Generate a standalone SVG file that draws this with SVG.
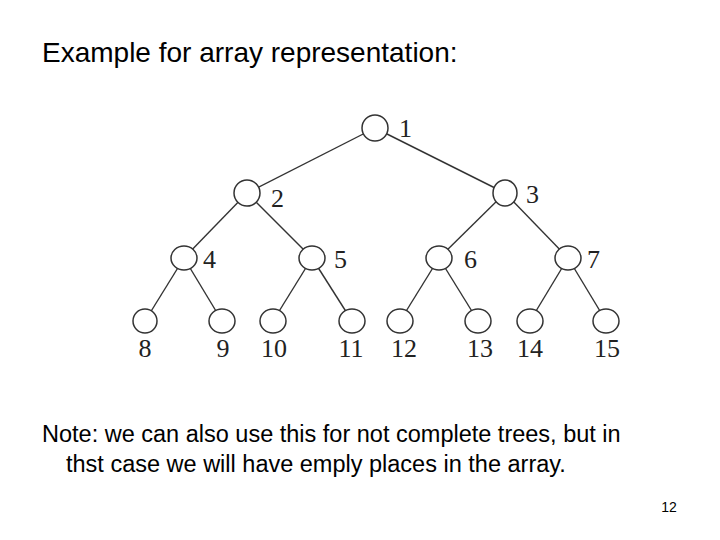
<svg xmlns="http://www.w3.org/2000/svg" width="720" height="540" viewBox="0 0 720 540">
<style>
.t{font-family:"Liberation Sans",Arial,sans-serif;fill:#000}
.edge{stroke:#333;stroke-width:1.4;fill:none}
.node ellipse{fill:#fff;stroke:#333;stroke-width:1.5}
.lbl{font-family:"Liberation Serif","Times New Roman",serif;font-size:26px;fill:#222}
.leaf{text-anchor:middle}
</style>
<rect width="720" height="540" fill="#fff"/>
<text class="t" x="42" y="62" font-size="28">Example for array representation:</text>
<g id="connectors">
<line class="edge" x1="375" y1="128" x2="247" y2="193"/>
<line class="edge" x1="375" y1="128" x2="505" y2="193"/>
<line class="edge" x1="247" y1="193" x2="184" y2="258"/>
<line class="edge" x1="247" y1="193" x2="312" y2="258"/>
<line class="edge" x1="505" y1="193" x2="439" y2="258"/>
<line class="edge" x1="505" y1="193" x2="568" y2="258"/>
<line class="edge" x1="184" y1="258" x2="145" y2="321"/>
<line class="edge" x1="184" y1="258" x2="222" y2="321"/>
<line class="edge" x1="312" y1="258" x2="273" y2="321"/>
<line class="edge" x1="312" y1="258" x2="352" y2="321"/>
<line class="edge" x1="439" y1="258" x2="400" y2="321"/>
<line class="edge" x1="439" y1="258" x2="478" y2="321"/>
<line class="edge" x1="568" y1="258" x2="530" y2="321"/>
<line class="edge" x1="568" y1="258" x2="606" y2="321"/>
</g>
<g id="n1" class="node"><ellipse cx="375" cy="128" rx="13" ry="13"/><text class="lbl" x="399" y="137">1</text></g>
<g id="n2" class="node"><ellipse cx="247" cy="193" rx="13" ry="13"/><text class="lbl" x="271" y="207">2</text></g>
<g id="n3" class="node"><ellipse cx="505" cy="193" rx="12" ry="13"/><text class="lbl" x="526" y="203">3</text></g>
<g id="n4" class="node"><ellipse cx="184" cy="258" rx="13" ry="12"/><text class="lbl" x="203" y="268">4</text></g>
<g id="n5" class="node"><ellipse cx="312" cy="258" rx="13" ry="12"/><text class="lbl" x="334" y="268">5</text></g>
<g id="n6" class="node"><ellipse cx="439" cy="258" rx="13" ry="12"/><text class="lbl" x="464" y="268">6</text></g>
<g id="n7" class="node"><ellipse cx="568" cy="258" rx="13" ry="12"/><text class="lbl" x="587" y="268">7</text></g>
<g id="n8" class="node"><ellipse cx="145" cy="321" rx="12" ry="12"/><text class="lbl leaf" x="145" y="357">8</text></g>
<g id="n9" class="node"><ellipse cx="222" cy="321" rx="13" ry="12"/><text class="lbl leaf" x="223" y="357">9</text></g>
<g id="n10" class="node"><ellipse cx="273" cy="321" rx="13" ry="12"/><text class="lbl leaf" x="274" y="357">10</text></g>
<g id="n11" class="node"><ellipse cx="352" cy="321" rx="13" ry="12"/><text class="lbl leaf" x="351" y="357">11</text></g>
<g id="n12" class="node"><ellipse cx="400" cy="321" rx="13" ry="12"/><text class="lbl leaf" x="404" y="357">12</text></g>
<g id="n13" class="node"><ellipse cx="478" cy="321" rx="13" ry="12"/><text class="lbl leaf" x="480" y="357">13</text></g>
<g id="n14" class="node"><ellipse cx="530" cy="321" rx="13" ry="12"/><text class="lbl leaf" x="530" y="357">14</text></g>
<g id="n15" class="node"><ellipse cx="606" cy="321" rx="13" ry="12"/><text class="lbl leaf" x="607" y="357">15</text></g>
<text class="t" x="42" y="442" font-size="23.5">Note: we can also use this for not complete trees, but in</text>
<text class="t" x="66" y="472" font-size="23.5">thst case we will have emply places in the array.</text>
<text class="t" x="669" y="512" font-size="14" text-anchor="middle">12</text>
</svg>
